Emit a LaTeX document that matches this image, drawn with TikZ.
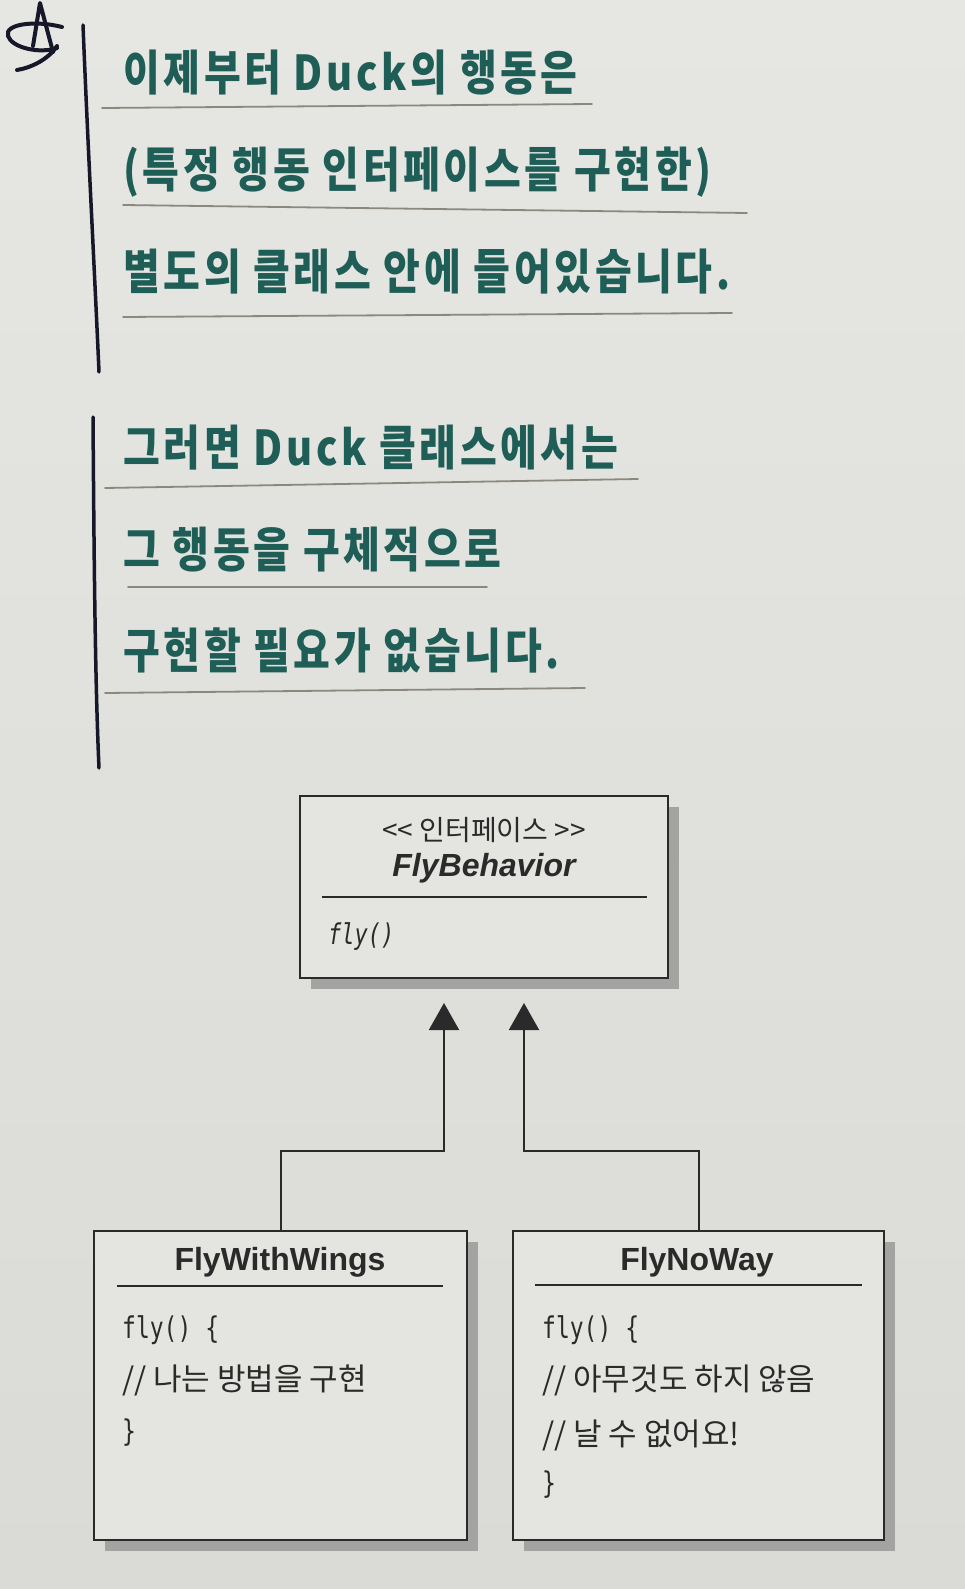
\documentclass[tikz,border=0pt]{standalone}
\usepackage{fontspec}
\setmainfont{Liberation Sans}
\newfontfamily\krfont{Noto Sans CJK KR}
\newfontfamily\hwfont[LetterSpace=9]{Noto Sans CJK KR}
\newfontfamily\codefont{DejaVu Sans Mono}
\usetikzlibrary{arrows.meta,shadows}

\definecolor{hwink}{HTML}{1F5E56}
\definecolor{pencilgray}{HTML}{8C887E}
\definecolor{barink}{HTML}{16182A}
\definecolor{paperlight}{HTML}{E6E6E3}
\definecolor{paperdark}{HTML}{DADAD6}
\definecolor{boxfill}{HTML}{E4E4E1}
\definecolor{umlink}{HTML}{2A2A2A}
\definecolor{umlshadow}{HTML}{A3A3A1}

\newcommand{\hw}[1]{\scalebox{1}[1.2]{#1}}
\newcommand{\cd}[1]{\scalebox{1}[1.3]{#1}}

\tikzset{
	hand/.style={anchor=west, inner sep=0pt, text=hwink,
		font=\hwfont\bfseries\fontsize{40}{44}\selectfont},
	rule/.style={draw=pencilgray, line width=1.8pt, line cap=round},
	penline/.style={draw=barink, line width=3.5pt, line cap=round, line join=round},
	umlbox/.style={draw=umlink, line width=2pt, fill=boxfill,
		drop shadow={shadow xshift=11pt, shadow yshift=-11pt, fill=umlshadow, opacity=1}},
	classname/.style={inner sep=0pt, text=umlink, font=\bfseries\fontsize{32}{36}\selectfont},
	stereo/.style={inner sep=0pt, text=umlink, font=\krfont\fontsize{28}{32}\selectfont},
	code/.style={anchor=west, inner sep=0pt, text=umlink, font=\codefont\fontsize{23}{26}\selectfont},
	comment/.style={anchor=west, inner sep=0pt, text=umlink, font=\krfont\fontsize{31}{34}\selectfont},
	sep/.style={draw=umlink, line width=1.5pt},
	realize/.style={draw=umlink, line width=2pt, -{Triangle[length=27pt, width=30pt]}},
}

\begin{document}
\begin{tikzpicture}[x=1pt, y=-1pt]
\useasboundingbox (0,0) rectangle (965,1589);
\shade[top color=paperlight, bottom color=paperdark] (0,0) rectangle (965,1589);

% star and margin bars
\draw[penline, line width=4pt] (33,46) -- (40,3) -- (53,52);
\draw[penline, line width=4pt] (62,27) .. controls (35,20) and (4,24) .. (8,36)
	.. controls (12,48) and (40,54) .. (57,48);
\draw[penline, line width=4pt] (57,46) .. controls (48,60) and (30,68) .. (17,70);

\draw[penline] (83,25) .. controls (88,150) and (95,280) .. (99,372);
\draw[penline] (93,417) .. controls (94,550) and (95,680) .. (99,768);

% handwritten notes
\foreach[count=\i] \y/\t in {
	73/{이제부터 Duck의 행동은},
	172/{(특정 행동 인터페이스를 구현한)},
	272/{별도의 클래스 안에 들어있습니다.},
	448/{그러면 Duck 클래스에서는},
	550/{그 행동을 구체적으로},
	650/{구현할 필요가 없습니다.}%
}{
	\node[hand] (note\i) at (123,\y) {\hw{\t}};
}

\foreach \a/\b in {
	{102,108}/{592,104},{123,205}/{747,213},{123,317}/{732,313},%
	{105,488}/{638,479},{128,587}/{487,587},{105,693}/{585,688}%
}{
	\draw[rule] (\a) -- (\b);
}

% interface
\node[umlbox, minimum width=368, minimum height=182] (fb) at (484,887) {};
\node[stereo] (fbtag) at (484,830) {<< 인터페이스 >>};
\node[classname, font=\bfseries\itshape\fontsize{32}{36}\selectfont] (fbname) at (484,868) {FlyBehavior};
\draw[sep] (322,897) -- (647,897);
\node[code, font=\codefont\itshape\fontsize{22}{26}\selectfont] (fbop) at (328,937) {\cd{fly()}};

% implementations
\node[umlbox, minimum width=373, minimum height=309] (fww) at (280.5,1385.5) {};
\node[classname] (fwwname) at (280,1262) {FlyWithWings};
\draw[sep] (117,1286) -- (443,1286);
\node[code] (fwwl1) at (122,1330) {\cd{fly() \{}};
\node[comment] (fwwl2) at (122,1380) {// 나는 방법을 구현};
\node[code] (fwwl3) at (122,1433) {\cd{\}}};

\node[umlbox, minimum width=371, minimum height=309] (fnw) at (698.5,1385.5) {};
\node[classname] (fnwname) at (697,1262) {FlyNoWay};
\draw[sep] (535,1285) -- (862,1285);
\node[code] (fnwl1) at (542,1330) {\cd{fly() \{}};
\node[comment] (fnwl2) at (542,1380) {// 아무것도 하지 않음};
\node[comment] (fnwl3) at (542,1435) {// 날 수 없어요!};
\node[code] (fnwl4) at (542,1485) {\cd{\}}};

% realization arrows
\coordinate (tipL) at (444,1003);
\coordinate (tipR) at (524,1003);
\coordinate (bendL) at (444,1151);
\coordinate (bendR) at (524,1151);
\draw[realize] (fww.north) |- (bendL) -- (tipL);
\draw[realize] (fnw.north) |- (bendR) -- (tipR);

\end{tikzpicture}
\end{document}
